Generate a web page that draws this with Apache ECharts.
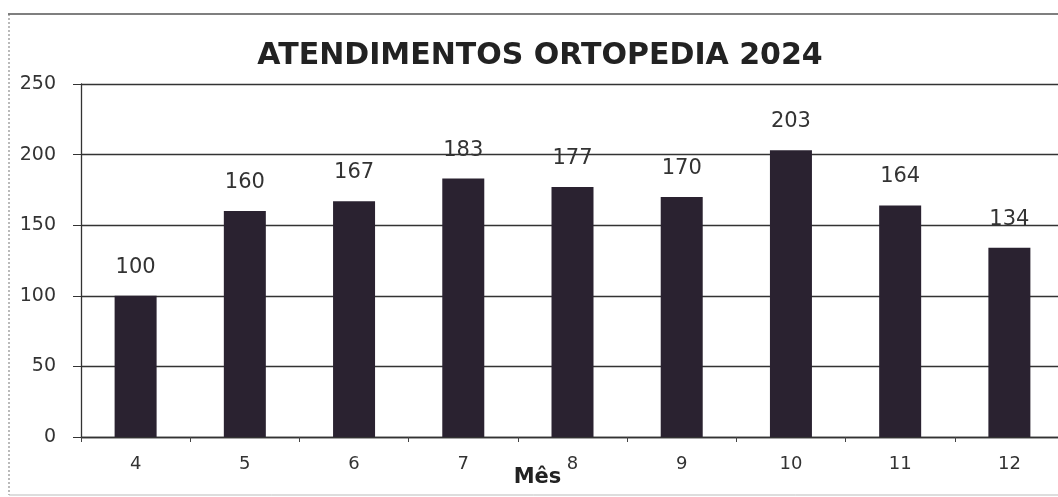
<!DOCTYPE html>
<html><head><meta charset="utf-8">
<script src="https://cdn.jsdelivr.net/npm/echarts@6/dist/echarts.min.js"></script>
<style>html,body{margin:0;padding:0;background:#fff}#c{width:1058px;height:497px}</style>
</head><body><div id="c"></div>
<script>
const months = ['4','5','6','7','8','9','10','11','12'];
const atendimentos = [100,160,167,183,177,170,203,164,134];
const yTicks = [0,50,100,150,200,250];
const chart = echarts.init(document.getElementById('c'));
chart.setOption({
  animation:false,
  backgroundColor:'#fff',
  title:{text:'ATENDIMENTOS ORTOPEDIA 2024',left:535,top:36,textAlign:'center',
    textStyle:{fontFamily:'DejaVu Sans',fontWeight:'bold',fontSize:30,color:'#222'}},
  grid:{left:81,width:983,top:84,height:353,containLabel:false,outerBoundsMode:'none'},
  xAxis:{type:'category',data:months,name:'Mês',nameLocation:'middle',nameGap:30,nameMoveOverlap:false,
    nameTextStyle:{fontFamily:'DejaVu Sans',fontWeight:'bold',fontSize:21,color:'#222',padding:[0,70,0,0]},
    axisLine:{lineStyle:{color:'#333',width:1.3}},
    axisTick:{show:true,length:5,lineStyle:{color:'#444'}},
    axisLabel:{fontFamily:'DejaVu Sans',fontSize:18,color:'#333',margin:18}},
  yAxis:{type:'value',min:yTicks[0],max:yTicks[yTicks.length-1],interval:50,
    axisLine:{show:true,lineStyle:{color:'#333',width:1.3}},
    axisTick:{show:true,length:8,lineStyle:{color:'#333'}},
    splitLine:{lineStyle:{color:'#333',width:1.3}},
    axisLabel:{fontFamily:'DejaVu Sans',fontSize:19,color:'#333',margin:25}},
  series:[{type:'bar',data:atendimentos,barWidth:42,
    itemStyle:{color:'#2a2230'},
    label:{show:true,position:'top',distance:18,fontFamily:'DejaVu Sans',fontSize:21,color:'#333'}}],
  graphic:[
    {type:'line',shape:{x1:8,y1:14,x2:1058,y2:14},style:{stroke:'#555',lineWidth:1.5}},
    {type:'line',shape:{x1:9,y1:14,x2:9,y2:495},style:{stroke:'#777',lineWidth:1,lineDash:[2,2]}},
    {type:'line',shape:{x1:9,y1:495,x2:1058,y2:495},style:{stroke:'#bbb',lineWidth:1}}
  ]
});
</script></body></html>
